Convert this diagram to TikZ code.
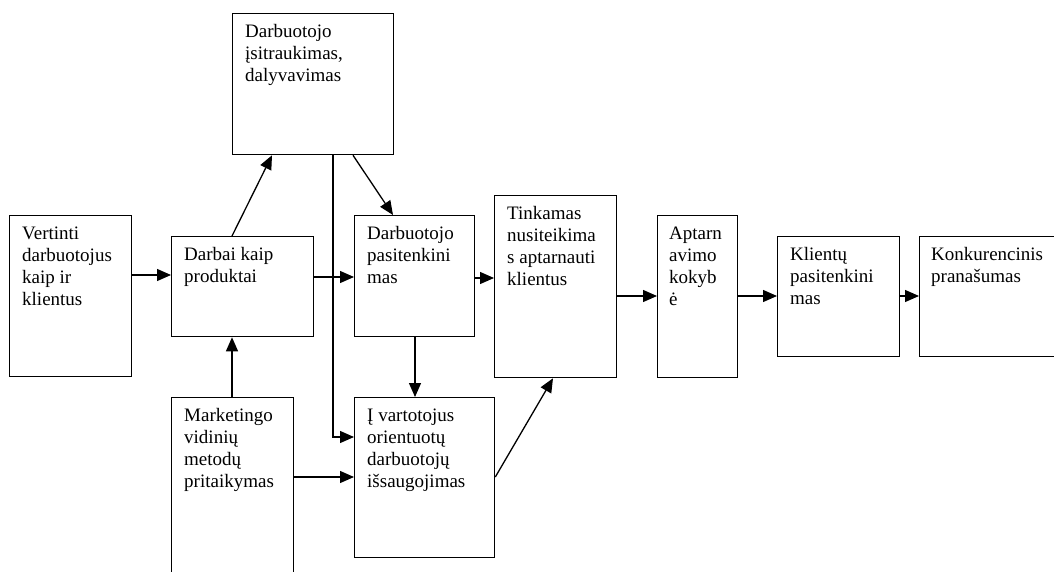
\documentclass[tikz,border=0pt]{standalone}
\usepackage{fontspec}
\setmainfont{Liberation Serif}
\usetikzlibrary{arrows.meta}
\begin{document}
\begin{tikzpicture}[x=1pt,y=-1pt,
  box/.style={draw=black,line width=1.3pt,inner sep=0pt,anchor=north west},
  txt/.style={anchor=north west,inner sep=0pt,align=left,font=\fontsize{19pt}{22pt}\selectfont},
  arr/.style={line width=1.3pt,-{Triangle[length=14pt,width=12pt]}},
  ln/.style={line width=1.3pt}]
\useasboundingbox (0,0) rectangle (1054,572);
\clip (0,0) rectangle (1054,572);
\fill[white] (0,0) rectangle (1054,572);
% boxes
\node[box,minimum width=122pt,minimum height=161pt] (b1) at (9,215) {};
\node[box,minimum width=142pt,minimum height=100pt] (b2) at (171,236) {};
\node[box,minimum width=161pt,minimum height=141pt] (top) at (232,13) {};
\node[box,minimum width=120pt,minimum height=121pt] (b3) at (354,215) {};
\node[box,minimum width=122pt,minimum height=182pt] (b4) at (494,195) {};
\node[box,minimum width=80pt,minimum height=162pt] (b5) at (657,215) {};
\node[box,minimum width=122pt,minimum height=120pt] (b6) at (777,236) {};
\node[box,minimum width=150pt,minimum height=120pt] (b7) at (919,236) {};
\node[box,minimum width=122pt,minimum height=190pt] (mk) at (171,397) {};
\node[box,minimum width=140pt,minimum height=160pt] (iv) at (354,397) {};
% texts
\node[txt] (t1) at (22,226.5) {Vertinti\\darbuotojus\\kaip ir\\klientus};
\node[txt] (t2) at (184,247.5) {Darbai kaip\\produktai};
\node[txt] (tt) at (245,24.5) {Darbuotojo\\įsitraukimas,\\dalyvavimas};
\node[txt] (t3) at (367,226.5) {Darbuotojo\\pasitenkini\\mas};
\node[txt] (t4) at (507,206.5) {Tinkamas\\nusiteikima\\s aptarnauti\\klientus};
\node[txt] (t5) at (669,226.5) {Aptarn\\avimo\\kokyb\\ė};
\node[txt] (t6) at (790,247.5) {Klientų\\pasitenkini\\mas};
\node[txt] (t7) at (931,247.5) {Konkurencinis\\pranašumas};
\node[txt] (tm) at (184,408.5) {Marketingo\\vidinių\\metodų\\pritaikymas};
\node[txt] (ti) at (367,408.5) {Į vartotojus\\orientuotų\\darbuotojų\\išsaugojimas};
% connectors
\draw[arr] (b1.east |- 0,275) -- (b2.west |- 0,275);
\draw[arr] (232,0 |- b2.north) -- (272,0 |- top.south);
\draw[arr] (353,0 |- top.south) -- (393,0 |- b3.north);
\draw[arr] (333,0 |- top.south) |- (iv.west |- 0,437);
\draw[arr] (b2.east |- 0,277) -- (b3.west |- 0,277);
\draw[arr] (b3.east |- 0,278) -- (b4.west |- 0,278);
\draw[arr] (415,0 |- b3.south) -- (415,0 |- iv.north);
\draw[arr] (232,0 |- mk.north) -- (232,0 |- b2.south);
\draw[arr] (mk.east |- 0,477) -- (iv.west |- 0,477);
\draw[arr] (iv.east |- 0,477) -- (553,0 |- b4.south);
\draw[arr] (b4.east |- 0,296) -- (b5.west |- 0,296);
\draw[arr] (b5.east |- 0,296) -- (b6.west |- 0,296);
\draw[arr] (b6.east |- 0,296) -- (b7.west |- 0,296);
\end{tikzpicture}
\end{document}
